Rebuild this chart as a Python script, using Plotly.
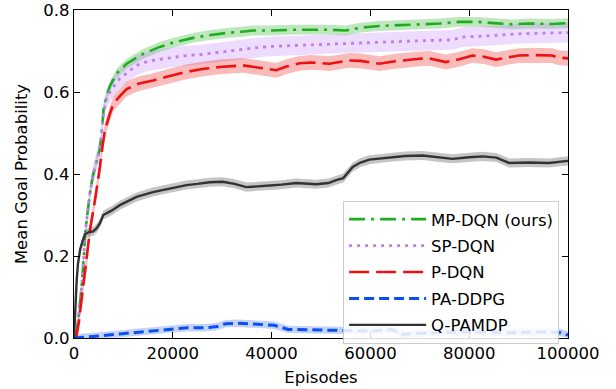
import plotly.graph_objects as go

# ---------------- data ----------------
mp_x = [0, 500, 1000, 1500, 2000, 2300, 2800, 3300, 3900, 4600, 5200, 5600, 6000, 6600, 7300, 8600,
        10650, 14000, 17370, 20000, 24100, 27000, 30850, 34000, 36220, 39600, 45000, 51700, 55000,
        58000, 61800, 66000, 69900, 74000, 77980, 82000, 85000, 88750, 92000, 96770, 100000]
mp_y = [0.0, 0.01, 0.06, 0.12, 0.2, 0.26, 0.31, 0.36, 0.40, 0.43, 0.46, 0.50, 0.56, 0.59, 0.615, 0.645,
        0.669, 0.693, 0.71, 0.72, 0.732, 0.738, 0.744, 0.747, 0.75, 0.75, 0.752, 0.752, 0.75,
        0.757, 0.761, 0.763, 0.765, 0.767, 0.771, 0.771, 0.768, 0.765, 0.767, 0.766, 0.768]
mp_std = 0.012

sp_x = [0, 500, 1000, 1500, 2000, 2300, 2800, 3300, 3900, 4600, 5200, 5600, 6000, 6600, 7500, 9290,
        12670, 15000, 19390, 22000, 26120, 30000, 32870, 36220, 39600, 46320, 51720, 57000, 63170,
        70000, 76630, 78650, 84000, 90100, 96770, 100000]
sp_y = [0.0, 0.01, 0.06, 0.12, 0.2, 0.26, 0.31, 0.36, 0.40, 0.43, 0.46, 0.50, 0.55, 0.585, 0.605, 0.633,
        0.665, 0.675, 0.684, 0.688, 0.692, 0.698, 0.703, 0.707, 0.711, 0.714, 0.718, 0.72, 0.722,
        0.725, 0.727, 0.734, 0.737, 0.742, 0.744, 0.745]
sp_std = 0.024

p_x = [0, 500, 1000, 1500, 2000, 2560, 3230, 4240, 4910, 5250, 5800, 6260, 7270, 8000, 9290, 10650,
       13000, 16020, 19000, 22770, 26000, 29500, 34200, 37000, 40950, 43000, 45660, 48000, 51720,
       55760, 58000, 61820, 65000, 69900, 72000, 75290, 78000, 80670, 83000, 85390, 88000, 90100,
       93000, 96770, 98000, 100000]
p_y = [0.0, 0.005, 0.04, 0.09, 0.14, 0.182, 0.263, 0.336, 0.385, 0.417, 0.47, 0.507, 0.547, 0.572, 0.59,
       0.607, 0.62, 0.628, 0.638, 0.649, 0.656, 0.661, 0.665, 0.66, 0.653, 0.662, 0.67, 0.672, 0.669,
       0.677, 0.676, 0.669, 0.675, 0.681, 0.682, 0.673, 0.68, 0.689, 0.686, 0.679, 0.685, 0.689,
       0.69, 0.689, 0.684, 0.682]
p_std = 0.018

pa_x = [0, 1500, 5000, 9290, 14000, 19390, 23000, 26550, 29000, 30730, 33000, 36320, 40520, 43330,
        48000, 53110, 57000, 60100, 62500, 64300, 66400, 70000, 74100, 81100, 88080, 92000, 96460,
        98500, 100000]
pa_y = [0.0, 0.002, 0.005, 0.01, 0.015, 0.022, 0.025, 0.025, 0.028, 0.035, 0.036, 0.034, 0.031, 0.021,
        0.02, 0.019, 0.018, 0.017, 0.019, 0.021, 0.009, 0.012, 0.014, 0.015, 0.013, 0.014, 0.015,
        0.013, 0.007]
pa_std = 0.009

q_x = [0, 300, 545, 800, 1212, 1700, 2222, 3000, 3900, 4600, 5250, 5920, 7500, 9290, 12670, 15960,
       19390, 22770, 25000, 27470, 30100, 32500, 34890, 37000, 39600, 42000, 45000, 49030, 51500,
       53070, 54500, 56420, 58000, 59800, 63840, 67000, 70570, 73500, 76630, 80000, 82690, 85500,
       88080, 92000, 96160, 100000]
q_y = [0.0, 0.09, 0.141, 0.18, 0.214, 0.235, 0.253, 0.258, 0.26, 0.268, 0.28, 0.30, 0.31, 0.324, 0.344,
       0.356, 0.365, 0.373, 0.376, 0.38, 0.381, 0.376, 0.368, 0.369, 0.372, 0.374, 0.378, 0.375, 0.378,
       0.385, 0.39, 0.417, 0.428, 0.435, 0.441, 0.444, 0.445, 0.441, 0.437, 0.441, 0.443, 0.44,
       0.427, 0.428, 0.427, 0.432]
q_std = 0.011

x_ticks = [0, 20000, 40000, 60000, 80000, 100000]
x_labels = ["0", "20000", "40000", "60000", "80000", "100000"]
y_ticks = [0, 0.2, 0.4, 0.6, 0.8]
y_labels = ["0.0", "0.2", "0.4", "0.6", "0.8"]

series = [
    ("MP-DQN (ours)", mp_x, mp_y, mp_std, "#1fae1f", "rgba(40,175,40,0.30)", "16px,6px,3px,6px", 2.6),
    ("SP-DQN", sp_x, sp_y, sp_std, "#c27cf3", "rgba(195,140,250,0.30)", "3px,5px", 2.8),
    ("P-DQN", p_x, p_y, p_std, "#ee1111", "rgba(240,60,60,0.35)", "20px,7px", 2.6),
    ("PA-DDPG", pa_x, pa_y, pa_std, "#0a4ff0", "rgba(60,110,240,0.30)", "10px,5px", 3.0),
    ("Q-PAMDP", q_x, q_y, q_std, "#333333", "rgba(90,90,90,0.35)", "solid", 2.4),
]

fig = go.Figure()
for name, xs, ys, sd, col, fcol, dash, w in series:
    upper = [max(0.0, v + sd) for v in ys]
    lower = [max(0.0, v - sd) for v in ys]
    fig.add_trace(go.Scatter(x=xs + xs[::-1], y=upper + lower[::-1], fill="toself",
                             fillcolor=fcol, line=dict(width=0), mode="lines",
                             hoverinfo="skip", showlegend=False))
for name, xs, ys, sd, col, fcol, dash, w in series:
    fig.add_trace(go.Scatter(x=xs, y=ys, mode="lines", name=name, legendgroup=name,
                             line=dict(color=col, width=w, dash=dash)))

FS = 16.5
axis_common = dict(showline=True, linecolor="black", linewidth=1.3, mirror="allticks",
                   ticks="inside", ticklen=6, tickwidth=1.2, tickcolor="black",
                   showgrid=False, zeroline=False, automargin=False,
                   ticklabeloverflow="allow",
                   tickfont=dict(family="DejaVu Sans", size=FS, color="black"))

fig.update_layout(
    width=616, height=389,
    margin=dict(l=74, r=48, t=10, b=51),
    paper_bgcolor="white", plot_bgcolor="white",
    font=dict(family="DejaVu Sans", size=FS, color="black"),
    xaxis=dict(range=[0, 100000], tickvals=x_ticks, ticktext=x_labels,
               title=dict(text="Episodes", font=dict(size=FS), standoff=9), **axis_common),
    yaxis=dict(range=[0, 0.8], tickvals=y_ticks, ticktext=y_labels,
               title=dict(text="Mean Goal Probability", font=dict(size=FS), standoff=11), **axis_common),
    legend=dict(x=0.982, y=0.418, xanchor="right", yanchor="top",
                bgcolor="rgba(255,255,255,0.85)", bordercolor="#cccccc", borderwidth=1,
                font=dict(family="DejaVu Sans", size=FS), tracegroupgap=2,
                itemwidth=77),
    showlegend=True,
)

fig.write_html("out.html", config={"displayModeBar": False},
               post_script="document.body.style.margin='0';")
